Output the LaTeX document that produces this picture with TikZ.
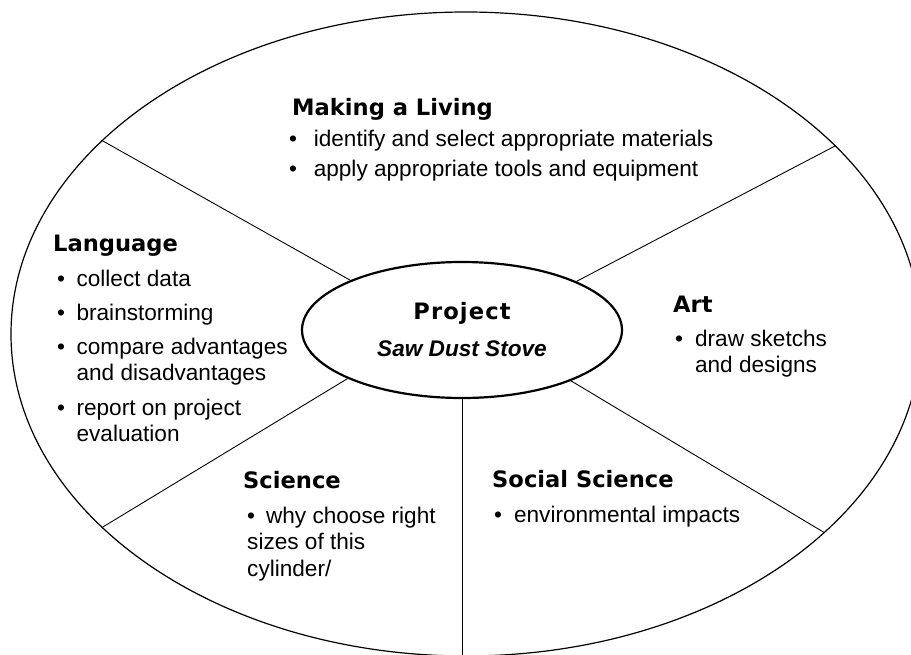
\documentclass[tikz,border=0pt]{standalone}
\usepackage{fontspec}
\setmainfont{Liberation Sans}
\newfontfamily\headfont{DejaVu Sans}
\usetikzlibrary{shapes.geometric}

\newcommand{\bitem}[2][12pt]{\begin{tabular}[t]{@{}l@{\hspace{#1}}l@{}}\textbullet & #2\end{tabular}}

\begin{document}
\begin{tikzpicture}[x=1pt, y=-1pt,
  topic/.style={anchor=base west, inner sep=0pt, font=\headfont\bfseries\fontsize{22.6}{27}\selectfont},
  listtext/.style={anchor=base west, inner sep=0pt, font=\fontsize{22.6}{26.5}\selectfont},
  spoke/.style={line width=0.9pt}]
  % Parameters
  \def\cx{466}
  \def\cy{334}
  \def\hx{462}
  \def\hy{330}

  \useasboundingbox (0,0) rectangle (911,654);
  \clip (0,0) rectangle (911,654);

  %wheel and hub
  \node[draw, ellipse, line width=1.2pt, inner sep=0pt, minimum width=910pt, minimum height=644pt] (wheel) at (\cx,\cy) {};
  \node[draw, ellipse, line width=2.2pt, inner sep=0pt, minimum width=320pt, minimum height=136pt,
        align=center, font=\fontsize{22.6}{37}\selectfont] (proj) at (\hx,\hy)
        {{\headfont\bfseries\addfontfeature{LetterSpace=5}Project}\\{\bfseries\itshape Saw Dust Stove}};

  %spokes
  \draw[spoke] (proj.156) -- (wheel.152.2);
  \draw[spoke] (proj.23) -- (wheel.27.9);
  \draw[spoke] (proj.203.9) -- (wheel.208.2);
  \draw[spoke] (proj.335.9) -- (wheel.331);
  \draw[spoke] (proj.south) -- (proj.south |- wheel.south);

  %Making a Living
  \node[topic] (making) at (292,115) {Making a Living};
  \node[listtext] (mk1) at (289,146) {\bitem[16.7pt]{identify and select appropriate materials}};
  \node[listtext] (mk2) at (289,176) {\bitem[16.7pt]{apply appropriate tools and equipment}};

  %Language
  \node[topic] (lang) at (53,251) {Language};
  \node[listtext] (lg1) at (57,286) {\bitem[11.5pt]{collect data}};
  \node[listtext] (lg2) at (57,320) {\bitem[11.5pt]{brainstorming}};
  \node[listtext] (lg3) at (57,354) {\bitem[11.5pt]{compare advantages\\ & and disadvantages}};
  \node[listtext] (lg4) at (57,415) {\bitem[11.5pt]{report on project\\ & evaluation}};

  %Art
  \node[topic] (art) at (673,312) {Art};
  \node[listtext] (art1) at (675,346) {\bitem{draw sketchs\\ & and designs}};

  %Science
  \node[topic] (sci) at (243,488) {Science};
  \node[listtext] (sci1) at (247,523) {\begin{tabular}[t]{@{}l@{}}\textbullet\hspace{11pt}why choose right\\ sizes of this\\ cylinder/\end{tabular}};

  %Social Science
  \node[topic] (soc) at (492,487) {Social Science};
  \node[listtext] (soc1) at (494,522) {\bitem{environmental impacts}};
\end{tikzpicture}
\end{document}
